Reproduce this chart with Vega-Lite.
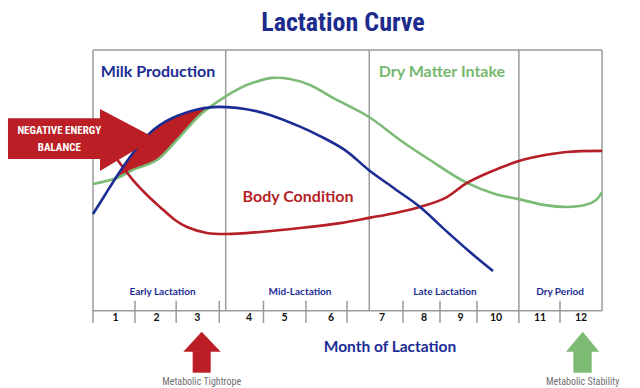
{
  "$schema": "https://vega.github.io/schema/vega-lite/v6.json",
  "width": 640,
  "height": 388,
  "autosize": {"type": "fit", "contains": "padding"},
  "padding": 0,
  "background": "white",
  "config": {"view": {"stroke": null}},
  "datasets": {
    "frame": [
      {"month": 0, "month2": 12, "level": 100, "level2": 100},
      {"month": 0, "month2": 12, "level": 0, "level2": 0},
      {"month": 0, "month2": 0, "level": -4.72, "level2": 100},
      {"month": 12, "month2": 12, "level": 0, "level2": 100},
      {"month": 3.128, "month2": 3.128, "level": 0, "level2": 100},
      {"month": 6.513, "month2": 6.513, "level": 0, "level2": 100},
      {"month": 10.04, "month2": 10.04, "level": -4.72, "level2": 100},
      {"month": 0.99, "month2": 0.99, "level": -4.72, "level2": 3.84},
      {"month": 1.961, "month2": 1.961, "level": -4.72, "level2": 3.84},
      {"month": 2.977, "month2": 2.977, "level": -4.72, "level2": 3.84},
      {"month": 4.019, "month2": 4.019, "level": -4.72, "level2": 3.84},
      {"month": 5.021, "month2": 5.021, "level": -4.72, "level2": 3.84},
      {"month": 5.988, "month2": 5.988, "level": -4.72, "level2": 3.84},
      {"month": 7.308, "month2": 7.308, "level": -4.72, "level2": 3.84},
      {"month": 8.18, "month2": 8.18, "level": -4.72, "level2": 3.84},
      {"month": 9.052, "month2": 9.052, "level": -4.72, "level2": 3.84},
      {"month": 11.009, "month2": 11.009, "level": -4.72, "level2": 3.84}
    ],
    "deficit": [
      {"month": 0.57, "level": 51.2, "level2": 51.2},
      {"month": 0.75, "level": 56.0, "level2": 52.2},
      {"month": 0.943, "level": 60.5, "level2": 54.0},
      {"month": 1.2, "level": 65.5, "level2": 55.8},
      {"month": 1.344, "level": 68.2, "level2": 56.6},
      {"month": 1.509, "level": 70.5, "level2": 57.8},
      {"month": 1.697, "level": 72.4, "level2": 61.0},
      {"month": 1.98, "level": 74.7, "level2": 65.5},
      {"month": 2.25, "level": 76.1, "level2": 70.5},
      {"month": 2.522, "level": 77.3, "level2": 75.1},
      {"month": 2.72, "level": 77.9, "level2": 77.9}
    ],
    "milk": [
      {"month": 0, "level": 37.1},
      {"month": 0.283, "level": 44.4},
      {"month": 0.566, "level": 51.7},
      {"month": 0.943, "level": 60.5},
      {"month": 1.344, "level": 68.2},
      {"month": 1.697, "level": 72.4},
      {"month": 1.98, "level": 74.7},
      {"month": 2.405, "level": 77.0},
      {"month": 2.829, "level": 78.1},
      {"month": 3.159, "level": 78.1},
      {"month": 3.583, "level": 77.4},
      {"month": 4.173, "level": 75.1},
      {"month": 4.88, "level": 70.6},
      {"month": 5.351, "level": 67.0},
      {"month": 5.941, "level": 61.6},
      {"month": 6.507, "level": 53.9},
      {"month": 7.119, "level": 46.7},
      {"month": 7.709, "level": 39.8},
      {"month": 8.298, "level": 31.0},
      {"month": 8.887, "level": 22.5},
      {"month": 9.43, "level": 15.2}
    ],
    "dmi": [
      {"month": 0, "level": 48.6},
      {"month": 0.566, "level": 50.9},
      {"month": 0.943, "level": 54.0},
      {"month": 1.509, "level": 57.8},
      {"month": 1.98, "level": 65.5},
      {"month": 2.522, "level": 75.1},
      {"month": 2.994, "level": 80.8},
      {"month": 3.465, "level": 85.4},
      {"month": 3.819, "level": 87.7},
      {"month": 4.22, "level": 89.3},
      {"month": 4.644, "level": 88.9},
      {"month": 5.116, "level": 86.6},
      {"month": 5.658, "level": 81.6},
      {"month": 6.507, "level": 74.3},
      {"month": 7.237, "level": 65.5},
      {"month": 7.944, "level": 57.8},
      {"month": 8.817, "level": 49.0},
      {"month": 9.477, "level": 44.8},
      {"month": 10.04, "level": 42.8},
      {"month": 10.66, "level": 40.5},
      {"month": 11.17, "level": 39.8},
      {"month": 11.6, "level": 40.5},
      {"month": 11.86, "level": 42.5},
      {"month": 12.0, "level": 45.5}
    ],
    "condition": [
      {"month": 0.5, "level": 59.5},
      {"month": 0.943, "level": 50.1},
      {"month": 1.273, "level": 44.4},
      {"month": 1.579, "level": 39.8},
      {"month": 1.933, "level": 34.8},
      {"month": 2.216, "level": 32.1},
      {"month": 2.687, "level": 29.8},
      {"month": 3.159, "level": 29.4},
      {"month": 3.937, "level": 30.2},
      {"month": 4.88, "level": 31.7},
      {"month": 5.823, "level": 33.6},
      {"month": 6.507, "level": 35.6},
      {"month": 7.237, "level": 37.9},
      {"month": 7.709, "level": 39.8},
      {"month": 8.298, "level": 43.2},
      {"month": 8.817, "level": 49.0},
      {"month": 9.359, "level": 53.2},
      {"month": 10.04, "level": 57.4},
      {"month": 10.66, "level": 59.7},
      {"month": 11.17, "level": 60.9},
      {"month": 12.0, "level": 61.3}
    ],
    "nebBody": [{"month": -2.004, "month2": 0.2, "level": 73.8, "level2": 58.2}],
    "nebHead": [
      {"month": 0.165, "level": 77.4, "level2": 53.6},
      {"month": 1.462, "level": 66.2, "level2": 66.2}
    ],
    "tightHead": [
      {"level": -15.73, "month": 2.129, "month2": 3.01},
      {"level": -8.06, "month": 2.562, "month2": 2.562}
    ],
    "tightShaft": [{"month": 2.35, "month2": 2.775, "level": -23.78, "level2": -15.5}],
    "stableHead": [
      {"level": -15.73, "month": 11.15, "month2": 11.935},
      {"level": -8.06, "month": 11.544, "month2": 11.544}
    ],
    "stableShaft": [{"month": 11.323, "month2": 11.756, "level": -23.78, "level2": -15.5}],
    "title": [{"month": 5.893, "level": 110.4, "label": "Lactation Curve"}],
    "series": [
      {"month": 1.532, "level": 91.4, "label": "Milk Production"},
      {"month": 8.227, "level": 91.4, "label": "Dry Matter Intake"},
      {"month": 4.833, "level": 43.7, "label": "Body Condition"}
    ],
    "phases": [
      {"month": 1.638, "level": 7.29, "label": "Early Lactation"},
      {"month": 4.88, "level": 7.29, "label": "Mid-Lactation"},
      {"month": 8.298, "level": 7.29, "label": "Late Lactation"},
      {"month": 11.009, "level": 7.29, "label": "Dry Period"}
    ],
    "months": [
      {"month": 0.53, "level": -2.92, "label": "1"},
      {"month": 1.497, "level": -2.92, "label": "2"},
      {"month": 2.459, "level": -2.92, "label": "3"},
      {"month": 3.677, "level": -2.92, "label": "4"},
      {"month": 4.514, "level": -2.92, "label": "5"},
      {"month": 5.611, "level": -2.92, "label": "6"},
      {"month": 6.813, "level": -2.92, "label": "7"},
      {"month": 7.803, "level": -2.92, "label": "8"},
      {"month": 8.663, "level": -2.92, "label": "9"},
      {"month": 9.5, "level": -2.92, "label": "10"},
      {"month": 10.537, "level": -2.92, "label": "11"},
      {"month": 11.504, "level": -2.92, "label": "12"}
    ],
    "axisTitle": [{"month": 7.001, "level": -14.1, "label": "Month of Lactation"}],
    "nebText": [
      {"month": -0.795, "level": 68.9, "label": "NEGATIVE ENERGY"},
      {"month": -0.795, "level": 62.4, "label": "BALANCE"}
    ],
    "notes": [
      {"month": 2.562, "level": -27.5, "label": "Metabolic Tightrope"},
      {"month": 11.544, "level": -27.5, "label": "Metabolic Stability"}
    ]
  },
  "encoding": {
    "x": {"field": "month", "type": "quantitative", "scale": {"domain": [-2.192, 12.895], "nice": false, "zero": false}, "axis": null},
    "y": {"field": "level", "type": "quantitative", "scale": {"domain": [-29.65, 119.18], "nice": false, "zero": false}, "axis": null}
  },
  "layer": [
    {"data": {"name": "frame"}, "mark": {"type": "rule", "color": "#9b9b9b", "strokeWidth": 1.5}, "encoding": {"x2": {"field": "month2"}, "y2": {"field": "level2"}}},
    {"data": {"name": "deficit"}, "mark": {"type": "area", "color": "#bb1e24", "interpolate": "catmull-rom", "opacity": 1}, "encoding": {"y2": {"field": "level2"}}},
    {"data": {"name": "dmi"}, "mark": {"type": "line", "color": "#7cbb76", "strokeWidth": 2.6, "interpolate": "catmull-rom"}, "encoding": {}},
    {"data": {"name": "condition"}, "mark": {"type": "line", "color": "#b61f27", "strokeWidth": 2.6, "interpolate": "catmull-rom"}, "encoding": {}},
    {"data": {"name": "milk"}, "mark": {"type": "line", "color": "#1b2d94", "strokeWidth": 2.6, "interpolate": "catmull-rom"}, "encoding": {}},
    {"data": {"name": "nebBody"}, "mark": {"type": "rect", "color": "#bb1e24"}, "encoding": {"x2": {"field": "month2"}, "y2": {"field": "level2"}}},
    {"data": {"name": "nebHead"}, "mark": {"type": "area", "color": "#bb1e24", "interpolate": "linear"}, "encoding": {"y2": {"field": "level2"}}},
    {"data": {"name": "tightShaft"}, "mark": {"type": "rect", "color": "#bb1e24"}, "encoding": {"x2": {"field": "month2"}, "y2": {"field": "level2"}}},
    {"data": {"name": "tightHead"}, "mark": {"type": "area", "orient": "horizontal", "color": "#bb1e24", "interpolate": "linear"}, "encoding": {"x2": {"field": "month2"}}},
    {"data": {"name": "stableShaft"}, "mark": {"type": "rect", "color": "#7dbb75"}, "encoding": {"x2": {"field": "month2"}, "y2": {"field": "level2"}}},
    {"data": {"name": "stableHead"}, "mark": {"type": "area", "orient": "horizontal", "color": "#7dbb75", "interpolate": "linear"}, "encoding": {"x2": {"field": "month2"}}},
    {"data": {"name": "title"}, "mark": {"type": "text", "font": "Roboto Condensed, DejaVu Sans Condensed, Liberation Sans Narrow, Roboto, sans-serif", "fontWeight": "bold", "fontSize": 26, "color": "#1c2b8c", "align": "center", "baseline": "middle"}, "encoding": {"text": {"field": "label"}}},
    {"data": {"name": "series"}, "mark": {"type": "text", "font": "Lato", "fontWeight": "bold", "fontSize": 16, "align": "center", "baseline": "middle"}, "encoding": {"text": {"field": "label"}, "color": {"field": "label", "type": "nominal", "scale": {"domain": ["Milk Production", "Dry Matter Intake", "Body Condition"], "range": ["#1b2d94", "#76b870", "#b61f27"]}, "legend": null}}},
    {"data": {"name": "phases"}, "mark": {"type": "text", "font": "Lato", "fontWeight": "bold", "fontSize": 10, "color": "#1b2d94", "align": "center", "baseline": "middle"}, "encoding": {"text": {"field": "label"}}},
    {"data": {"name": "months"}, "mark": {"type": "text", "font": "Lato", "fontWeight": "bold", "fontSize": 10.5, "color": "#111111", "align": "center", "baseline": "middle"}, "encoding": {"text": {"field": "label"}}},
    {"data": {"name": "axisTitle"}, "mark": {"type": "text", "font": "Lato", "fontWeight": "bold", "fontSize": 15.5, "color": "#1b2d94", "align": "center", "baseline": "middle"}, "encoding": {"text": {"field": "label"}}},
    {"data": {"name": "nebText"}, "mark": {"type": "text", "font": "Roboto Condensed, DejaVu Sans Condensed, Liberation Sans Narrow, Roboto, sans-serif", "fontWeight": "bold", "fontSize": 11, "color": "white", "align": "center", "baseline": "middle"}, "encoding": {"text": {"field": "label"}}},
    {"data": {"name": "notes"}, "mark": {"type": "text", "font": "Roboto Condensed, DejaVu Sans Condensed, Liberation Sans Narrow, Roboto, sans-serif", "fontSize": 10, "color": "#707070", "align": "center", "baseline": "middle"}, "encoding": {"text": {"field": "label"}}}
  ]
}
